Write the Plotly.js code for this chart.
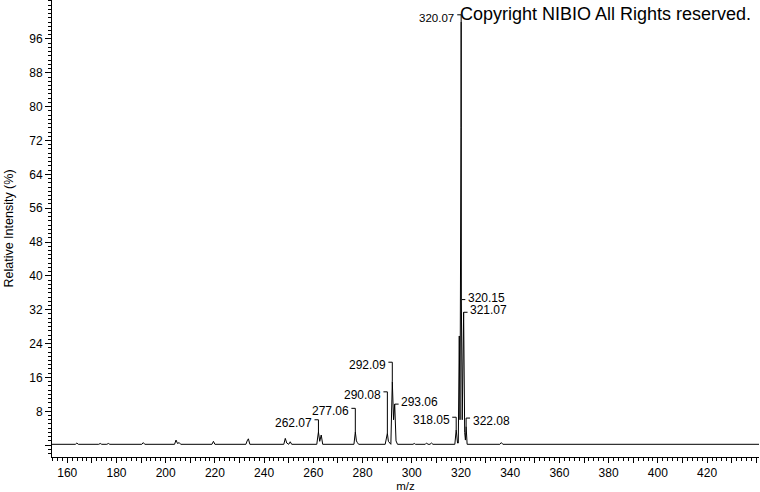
<!DOCTYPE html>
<html>
<head>
<meta charset="utf-8">
<script src="https://cdn.plot.ly/plotly-3.0.1.min.js"></script>
<style>html,body{margin:0;padding:0;background:#fff}#chart{width:760px;height:492px}</style>
</head>
<body>
<div id="chart"></div>
<script>
// Profile spectrum (m/z, relative intensity %)
const mz = [153.8, 163.3, 163.9, 164.5, 172.8, 173.4, 174.0, 176.1, 176.7, 177.3,
  190.3, 190.9, 191.5, 203.6, 204.2, 204.8, 205.5, 206.1, 218.8, 219.4, 220.0,
  232.6, 233.1, 233.6, 234.2, 248.0, 248.6, 249.2, 250.0, 250.6, 251.2,
  261.4, 261.9, 262.07, 262.6, 263.2, 263.8, 276.5, 277.06, 277.5, 277.9, 278.4,
  289.2, 289.7, 290.08, 290.5, 291.5, 292.09, 292.6, 293.06, 293.6, 294.2,
  300.5, 301.0, 301.5, 305.5, 306.0, 306.6, 307.4, 308.0, 308.6,
  317.5, 318.05, 318.6, 318.9, 319.3, 319.6, 320.0, 320.07, 320.15, 320.5, 321.07, 321.5, 321.8, 322.08, 322.5,
  335.8, 336.4, 337.0, 441.1];
const intensity = [0.2, 0.2, 0.5, 0.2, 0.2, 0.4, 0.2, 0.2, 0.4, 0.2,
  0.2, 0.6, 0.2, 0.2, 1.2, 0.4, 0.6, 0.2, 0.2, 0.9, 0.2,
  0.2, 1.0, 1.5, 0.2, 0.2, 1.6, 0.5, 0.2, 0.8, 0.2,
  0.2, 2.4, 3.1, 0.9, 2.4, 0.2, 0.2, 3.1, 1.0, 0.6, 0.2,
  0.2, 1.3, 2.8, 0.9, 0.2, 15.0, 6.0, 9.7, 1.0, 0.2,
  0.2, 0.4, 0.2, 0.2, 0.5, 0.2, 0.2, 0.5, 0.2,
  0.2, 3.6, 0.5, 0.5, 25.8, 6.0, 75.0, 100.0, 34.4, 6.0, 31.4, 3.0, 1.2, 4.4, 0.2,
  0.2, 0.6, 0.2, 0.2];

// Peak labels
const labelMz = [262.07, 277.06, 290.08, 292.09, 293.06, 318.05, 320.07, 320.15, 321.07, 322.08];
const labelText = ["262.07", "277.06", "290.08", "292.09", "293.06", "318.05", "320.07", "320.15", "321.07", "322.08"];
const labelLevel = [6.0, 8.7, 12.6, 19.6, 9.7, 6.6, 101.7, 34.4, 31.4, 6.4];
const labelSide = ["left", "left", "left", "left", "right", "left", "left", "right", "right", "right"];
const labelSize = [12, 12, 12, 12, 12, 12, 11.5, 12, 12, 12];

// Axis ticks
const xTickVals = [160, 170, 180, 190, 200, 210, 220, 230, 240, 250, 260, 270, 280, 290, 300, 310, 320, 330, 340, 350, 360, 370, 380, 390, 400, 410, 420, 430, 440];
const xTickText = ["160", "", "180", "", "200", "", "220", "", "240", "", "260", "", "280", "", "300", "", "320", "", "340", "", "360", "", "380", "", "400", "", "420", "", ""];
const yTickVals = [0, 8, 16, 24, 32, 40, 48, 56, 64, 72, 80, 88, 96];
const yTickText = ["", "8", "16", "24", "32", "40", "48", "56", "64", "72", "80", "88", "96"];

const font = "Arial, 'Liberation Sans', sans-serif";
const xRange = [153.8, 441.1];
const yRange = [-2.8, 105.2];
const hl = 1.6; // bracket arm length in m/z units

function peakHeight(m) {
  let best = 0, bd = 1e9;
  for (let i = 0; i < mz.length; i++) {
    const d = Math.abs(mz[i] - m);
    if (d < bd) { bd = d; best = intensity[i]; }
  }
  return best;
}

const traces = [{
  x: mz, y: intensity, type: "scatter", mode: "lines",
  line: {color: "#000", width: 1}, hoverinfo: "skip", showlegend: false
}];

const bx = [], by = [];
const annotations = [];
labelMz.forEach((m, i) => {
  const h = peakHeight(m);
  const L = labelLevel[i];
  const dir = labelSide[i] === "left" ? -1 : 1;
  bx.push(m + dir * hl, m, m, null);
  by.push(L, L, Math.min(L, h), null);
  annotations.push({
    x: m + dir * (hl + 0.3), y: L, xref: "x", yref: "y",
    text: labelText[i], showarrow: false,
    xanchor: dir < 0 ? "right" : "left", yanchor: "middle",
    yshift: (L - h) > 0.5 ? -3 : 2,
    font: {family: font, size: labelSize[i], color: "#000"}
  });
});
traces.push({x: bx, y: by, type: "scatter", mode: "lines",
  line: {color: "#000", width: 1}, hoverinfo: "skip", showlegend: false});

annotations.push({
  x: 1, y: 1, xref: "paper", yref: "paper", xanchor: "right", yanchor: "top",
  xshift: -6, yshift: -2,
  text: "Copyright NIBIO All Rights reserved.", showarrow: false,
  font: {family: font, size: 18, color: "#000"}
});

const layout = {
  width: 760, height: 492,
  margin: {l: 52, r: 1, t: 0, b: 35, pad: 0},
  paper_bgcolor: "#fff", plot_bgcolor: "#fff",
  showlegend: false,
  xaxis: {
    range: xRange, showgrid: false, zeroline: false,
    showline: true, linecolor: "#000", linewidth: 1,
    tickmode: "array", tickvals: xTickVals, ticktext: xTickText,
    ticks: "outside", ticklen: 5, tickcolor: "#000", tickwidth: 1,
    minor: {dtick: 2, tick0: 0, ticks: "outside", ticklen: 3, tickcolor: "#000", showgrid: false},
    tickfont: {family: font, size: 12, color: "#000"},
    title: {text: "m/z", font: {family: font, size: 11.5, color: "#000"}, standoff: 7}
  },
  yaxis: {
    range: yRange, showgrid: false, zeroline: false,
    showline: true, linecolor: "#000", linewidth: 1,
    tickmode: "array", tickvals: yTickVals, ticktext: yTickText,
    ticks: "outside", ticklen: 6, tickcolor: "#000", tickwidth: 1,
    minor: {dtick: 1, tick0: 0, ticks: "outside", ticklen: 3, tickcolor: "#000", showgrid: false},
    tickfont: {family: font, size: 12, color: "#000"},
    title: {text: "Relative Intensity (%)", font: {family: font, size: 12.5, color: "#000"}, standoff: 12}
  },
  annotations: annotations
};

Plotly.newPlot("chart", traces, layout, {displayModeBar: false, staticPlot: true});
</script>
</body>
</html>
